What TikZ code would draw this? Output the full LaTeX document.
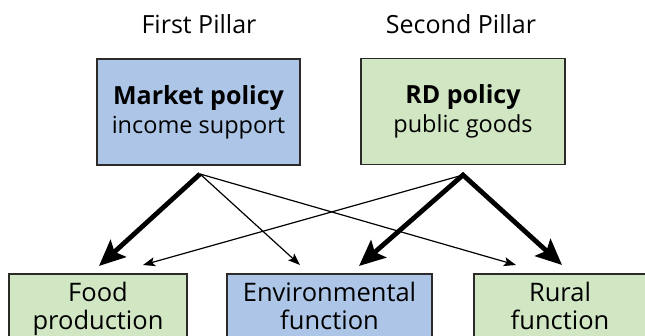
\documentclass[tikz,border=0pt]{standalone}
\usepackage{fontspec}
\setmainfont{Open Sans}
\usetikzlibrary{arrows.meta}
\definecolor{pillarblue}{RGB}{173,198,232}
\definecolor{pillargreen}{RGB}{209,230,195}
\definecolor{boxline}{RGB}{45,42,42}
\newcommand{\policyname}[1]{{\fontsize{25}{29}\selectfont\bfseries #1}}
\begin{document}
\begin{tikzpicture}[x=1pt,y=-1pt,
  topbox/.style={draw=boxline,line width=1.6pt,minimum width=#1,minimum height=106pt,
    align=center,inner sep=0pt,font=\fontsize{23.5}{29}\selectfont},
  lowbox/.style={draw=boxline,line width=1.6pt,minimum width=#1,minimum height=90pt,
    anchor=north,inner sep=0pt},
  lowtext/.style={font=\fontsize{25.5}{28}\selectfont,anchor=base,inner sep=0pt},
  heading/.style={font=\fontsize{25}{28}\selectfont,anchor=base},
  strong/.style={line width=4.8pt,{Stealth[length=26pt,width=23pt,inset=5pt]}-{Stealth[length=26pt,width=23pt,inset=5pt]}},
  strongone/.style={line width=4.8pt,-{Stealth[length=26pt,width=23pt,inset=5pt]}},
  weak/.style={line width=1.2pt,-{Stealth[length=12pt,width=9pt,inset=2.5pt]}}]
\clip (0,0) rectangle (645,336);

% column headings
\node[heading] (h1) at (199,34) {First Pillar};
\node[heading] (h2) at (461,34) {Second Pillar};

% policy boxes
\node[topbox=203pt,fill=pillarblue] (market) at (198.5,112)
  {\policyname{Market policy}\\income support};
\node[topbox=204pt,fill=pillargreen] (rd) at (463,111.5)
  {\policyname{RD policy}\\public goods};

% function boxes (running past the lower edge)
\node[lowbox=178pt,fill=pillargreen] (food) at (98,273) {};
\node[lowbox=205pt,fill=pillarblue] (env) at (329.5,273) {};
\node[lowbox=174pt,fill=pillargreen] (rural) at (561,273) {};

\node[lowtext] (food1) at (98,302) {Food};
\node[lowtext] (food2) at (98,330) {production};
\node[lowtext] (env1) at (329.5,302) {Environmental};
\node[lowtext] (env2) at (329.5,330) {function};
\node[lowtext] (rural1) at (560,302) {Rural};
\node[lowtext] (rural2) at (560,330) {function};

% arrow start points beneath the policy boxes
\coordinate (ms) at (200,174);
\coordinate (rs) at (463,175);
% arrow tips above the function boxes
\coordinate (tfood1) at (99,266);
\coordinate (tfood2) at (143,265);
\coordinate (tenv1) at (300,265);
\coordinate (tenv2) at (359,266);
\coordinate (trur1) at (516,265);
\coordinate (trur2) at (562,265);

% thin links
\draw[weak] (ms) -- (tenv1);
\draw[weak] (ms) -- (trur1);
\draw[weak] (rs) -- (tfood2);

% thick links
\draw[strongone] (ms) -- (tfood1);
\draw[strong,line join=miter] (tenv2) -- (rs) -- (trur2);
\end{tikzpicture}
\end{document}
